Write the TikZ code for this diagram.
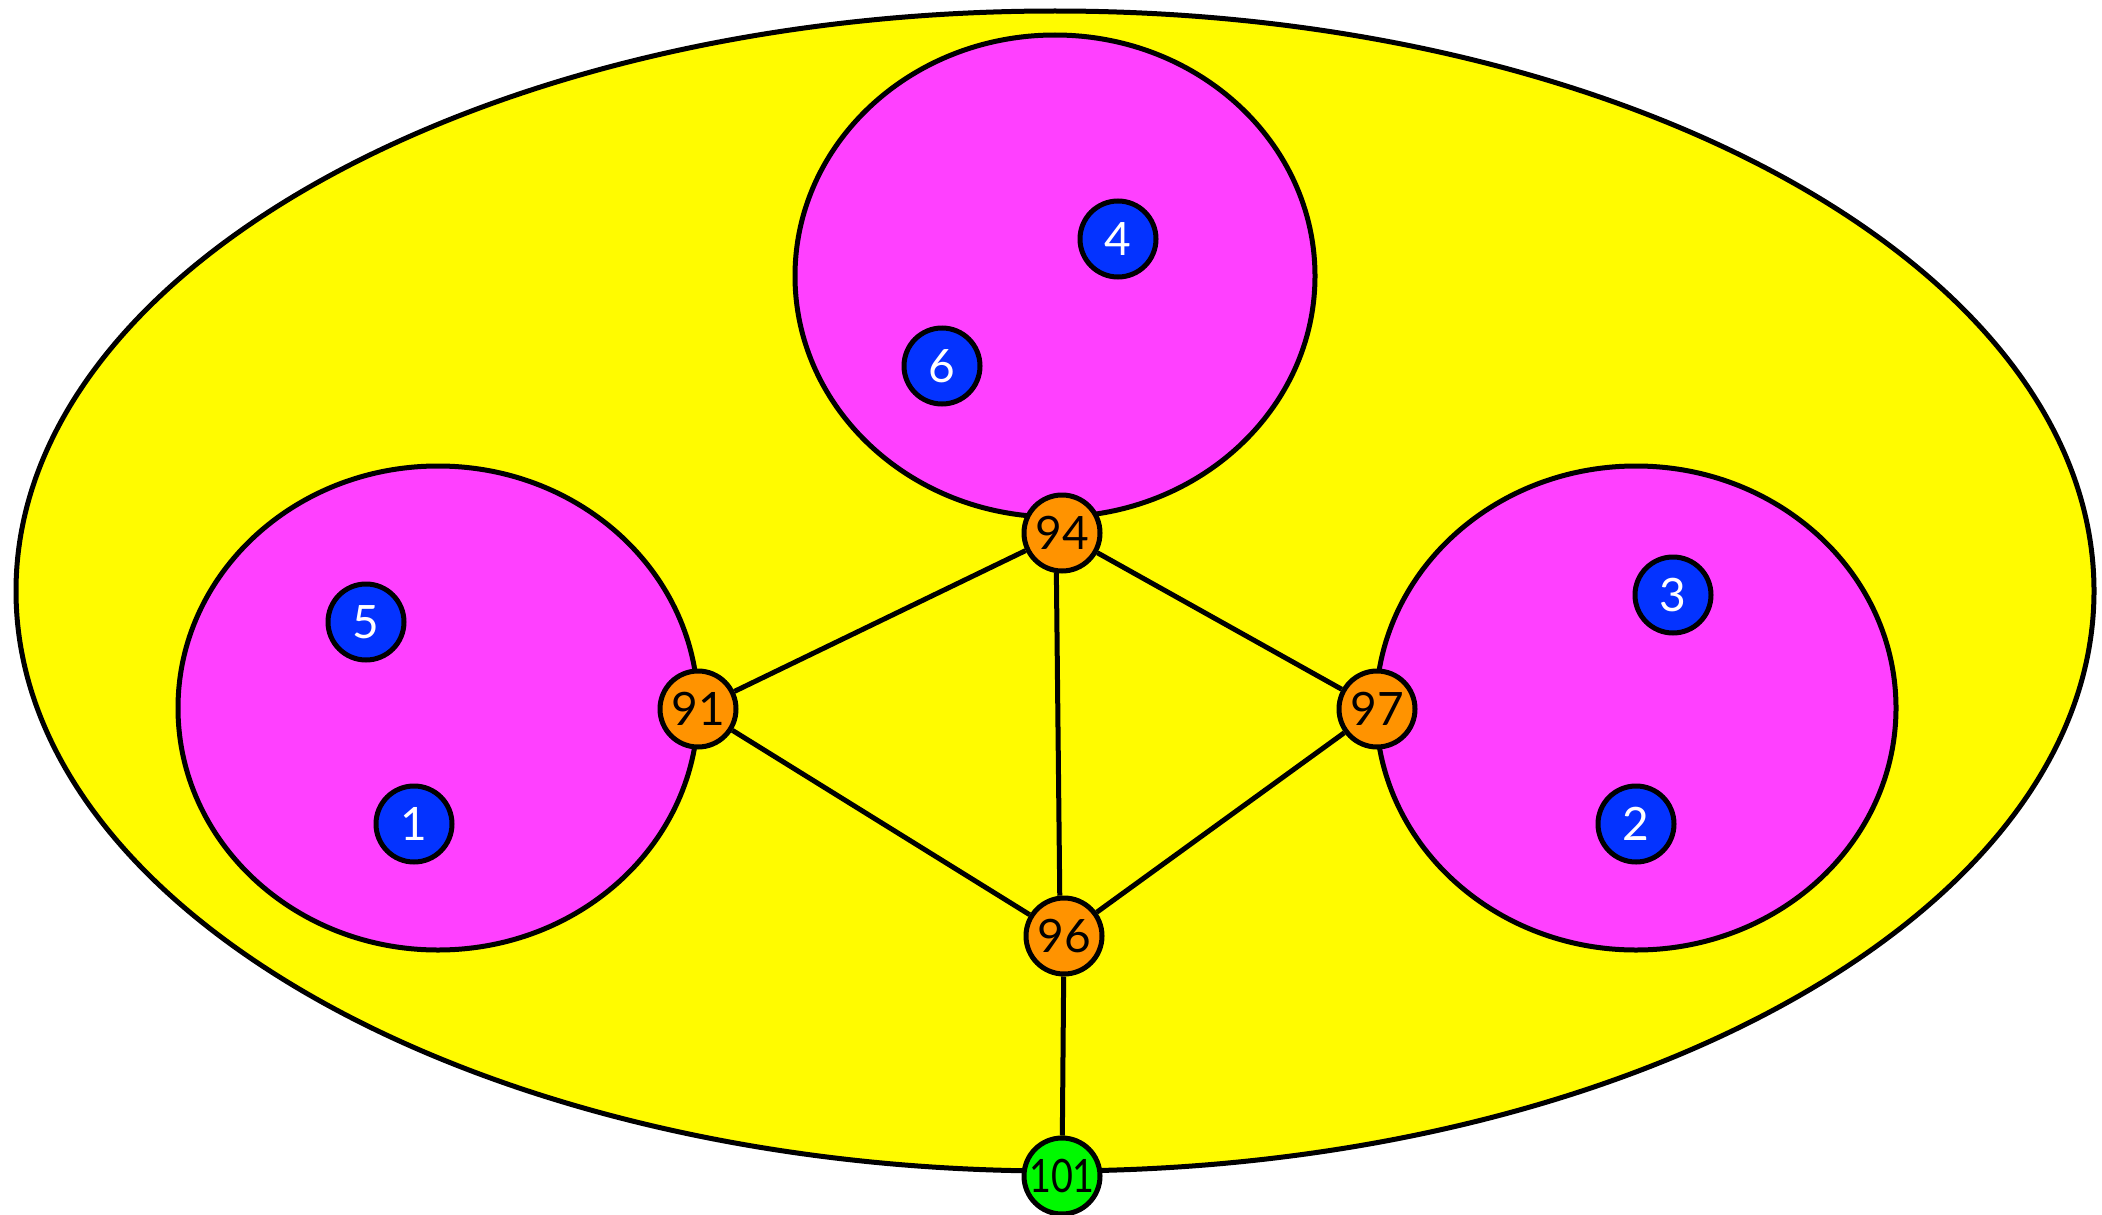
\documentclass[tikz,border=0pt]{standalone}
\usepackage{fontspec}
\setmainfont{Lato}
\usetikzlibrary{shapes.geometric}
\definecolor{cyel}{HTML}{FFFB00}
\definecolor{cmag}{HTML}{FF40FF}
\definecolor{cblue}{HTML}{0433FF}
\definecolor{corange}{HTML}{FF9300}
\definecolor{cgreen}{HTML}{00F900}
\tikzset{
  region/.style={ellipse, draw=black, line width=5pt, inner sep=0pt},
  vtx/.style={circle, draw=black, line width=5pt, minimum size=76pt, inner sep=0pt, font=\fontsize{46}{52}\selectfont},
  bluev/.style={vtx, fill=cblue, text=white},
  orangev/.style={vtx, fill=corange, text=black},
  greenv/.style={vtx, fill=cgreen, text=black},
  edge/.style={draw=black, line width=5pt}
}
\begin{document}
\begin{tikzpicture}[x=1pt,y=-1pt]
\useasboundingbox (0,0) rectangle (2102,1215);
\node[region, fill=cyel, minimum width=2078pt, minimum height=1160pt] (outer) at (1055,591) {};
\node[region, fill=cmag, minimum width=520pt, minimum height=482pt] (top) at (1055,276) {};
\node[region, fill=cmag, minimum width=520pt, minimum height=484pt] (left) at (438,708) {};
\node[region, fill=cmag, minimum width=520pt, minimum height=484pt] (right) at (1636,708) {};
\node[orangev] (n94) at (1062,533) {94};
\node[orangev] (n91) at (698,709) {91};
\node[orangev] (n97) at (1377,709) {97};
\node[orangev] (n96) at (1064,936) {96};
\node[greenv] (n101) at (1062,1176) {\scalebox{0.82}[1]{101}};
\draw[edge] (n94) -- (n91);
\draw[edge] (n94) -- (n97);
\draw[edge] (n94.-98) -- (n96.96);
\draw[edge] (n91) -- (n96);
\draw[edge] (n97) -- (n96);
\draw[edge] (n96) -- (n101);
\node[bluev] (n4) at (1118,239) {4};
\node[bluev] (n6) at (942,366) {6};
\node[bluev] (n5) at (366,622) {5};
\node[bluev] (n1) at (414,824) {1};
\node[bluev] (n3) at (1673,595) {3};
\node[bluev] (n2) at (1636,824) {2};
\end{tikzpicture}
\end{document}
